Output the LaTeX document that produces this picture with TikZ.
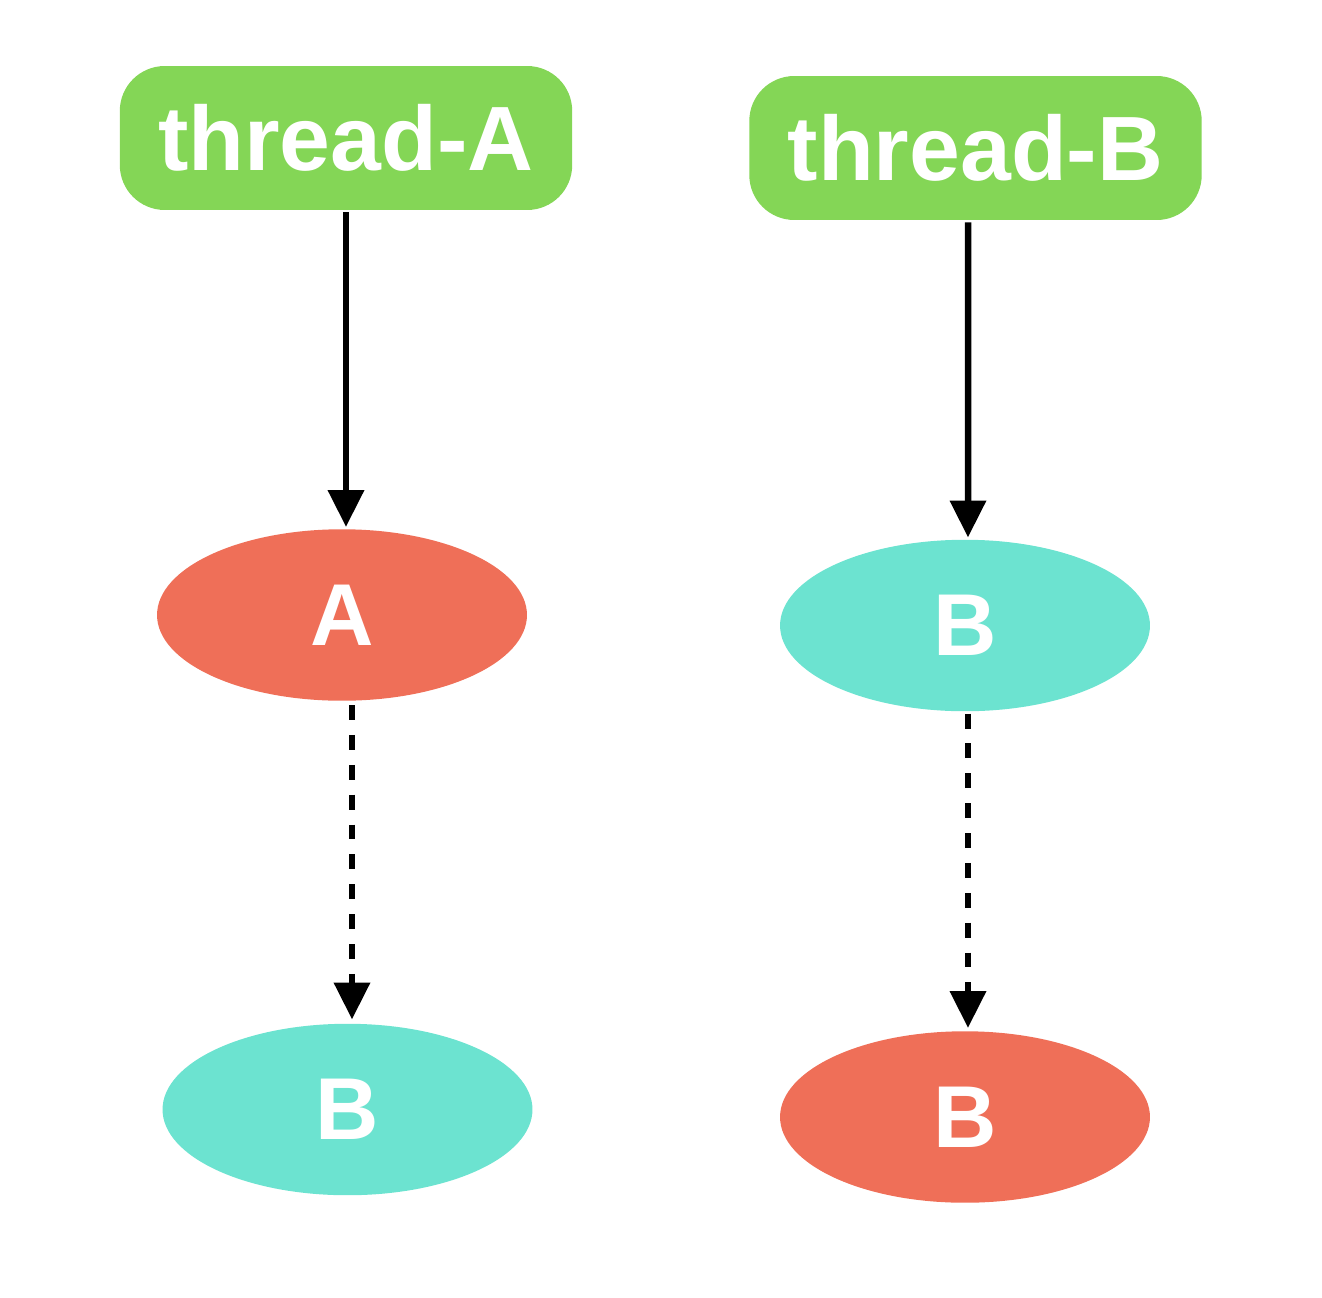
\documentclass[tikz,border=0pt]{standalone}
\usepackage{fontspec}
\setmainfont{Liberation Sans}
\usetikzlibrary{arrows.meta,shapes.geometric}
\definecolor{tgreen}{HTML}{84D656}
\definecolor{tred}{HTML}{EF6F58}
\definecolor{tcyan}{HTML}{6CE3D0}
\begin{document}
\begin{tikzpicture}[x=0.02cm,y=-0.02cm,
  threadbox/.style={fill=tgreen,rounded corners=0.9cm,minimum width=9.05cm,minimum height=2.88cm,inner sep=0pt,text=white,font=\fontsize{52}{52}\selectfont\bfseries},
  blob/.style={ellipse,minimum width=7.4cm,minimum height=3.43cm,inner sep=0pt,text=white,font=\fontsize{50}{50}\selectfont\bfseries},
  conn/.style={line width=3.7pt,-{Triangle[width=20pt,length=21pt]}},
  dashconn/.style={conn,dash pattern=on 8.5pt off 8.5pt}]
\useasboundingbox (0,0) rectangle (1322,1298);
\node[threadbox] (tA) at (346,138) {thread-A};
\node[threadbox] (tB) at (975.5,148) {thread-B};
\node[blob,fill=tred] (eA) at (342,615) {A};
\node[blob,fill=tcyan] (eB1) at (347.5,1109.5) {B};
\node[blob,fill=tcyan] (eB2) at (965,625.5) {B};
\node[blob,fill=tred] (eB3) at (965,1117) {B};
\draw[conn] ([yshift=-0.04cm]tA.south) -- ([yshift=0.04cm]tA.south |- eA.north);
\draw[conn] ([xshift=-0.15cm,yshift=-0.04cm]tB.south) -- ([yshift=0.04cm,xshift=0.06cm]eB2.north);
\draw[dashconn] ([xshift=0.2cm,yshift=-0.08cm]eA.south) -- ([xshift=0.2cm,yshift=0.08cm]eA.south |- eB1.north);
\draw[dashconn] ([xshift=0.06cm,yshift=-0.04cm]eB2.south) -- ([xshift=0.06cm,yshift=0.06cm]eB3.north);
\end{tikzpicture}
\end{document}
